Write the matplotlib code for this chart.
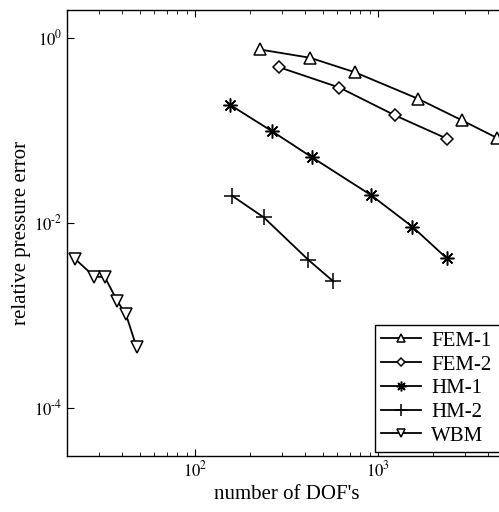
import math
import matplotlib
matplotlib.use('Agg')
import matplotlib.pyplot as plt
import matplotlib.ticker as mticker

plt.rcParams['font.family'] = ['Liberation Serif', 'DejaVu Serif']
plt.rcParams['mathtext.fontset'] = 'stix'

# values
fem1_dof = [226, 425, 748, 1656, 2877, 4467]
fem1_err = [0.748, 0.609, 0.424, 0.219, 0.128, 0.0826]

fem2_dof = [289, 615, 1238, 2371]
fem2_err = [0.480, 0.290, 0.145, 0.0814]

hm1_dof = [155, 264, 434, 916, 1540, 2371]
hm1_err = [0.189, 0.0975, 0.0513, 0.0199, 0.00906, 0.00413]

hm2_dof = [160, 238, 416, 570]
hm2_err = [0.0195, 0.0114, 0.00397, 0.00232]

wbm_dof = [22.1, 28.2, 32.2, 37.6, 42.0, 48.0]
wbm_err = [0.00407, 0.00262, 0.00258, 0.00143, 0.00102, 0.00045]

fig = plt.figure(figsize=(4.99, 5.12), dpi=100)
# right spine sits just past the cropped edge, like in the scan
ax = fig.add_axes([67/499, 56/512, 439/499, 446/512])

kw = dict(color='black', lw=1.3, mfc='white', mec='black', mew=1.1)
ax.plot(fem1_dof, fem1_err, marker='^', ms=8, label='FEM-1', **kw)
ax.plot(fem2_dof, fem2_err, marker='D', ms=6, label='FEM-2', **kw)
ax.plot(hm1_dof, hm1_err, marker=(8, 2, 0), ms=10, label='HM-1', **kw)
ax.plot(hm2_dof, hm2_err, marker='+', ms=12, label='HM-2', **kw)
ax.plot(wbm_dof, wbm_err, marker='v', ms=8, label='WBM', **kw)

ax.set_xscale('log')
ax.set_yscale('log')
ax.set_xlim(20, 5000)
ax.set_ylim(3e-5, 2)


def pow_label(v, pos):
    e = int(round(math.log10(v)))
    if e < 0:
        return r'$10^{\text{-}%d}$' % (-e)
    return r'$10^{%d}$' % e


ax.set_yticks([1e0, 1e-2, 1e-4])
ax.yaxis.set_minor_locator(mticker.NullLocator())
ax.set_xticks([1e2, 1e3])
ax.xaxis.set_major_formatter(mticker.FuncFormatter(pow_label))
ax.yaxis.set_major_formatter(mticker.FuncFormatter(pow_label))
ax.tick_params(which='both', direction='in', top=True, right=True, labelsize=12)
ax.tick_params(which='major', length=5)
ax.tick_params(which='minor', length=3)
for s in ax.spines.values():
    s.set_linewidth(1.0)

ax.set_xlabel('number of DOF\'s', fontsize=15, labelpad=3)
ax.set_ylabel('relative pressure error', fontsize=15, labelpad=2)

leg = ax.legend(loc='lower left', bbox_to_anchor=(375/499, 60/512, 140/499, 0.01),
                bbox_transform=fig.transFigure, mode='expand', fontsize=15,
                fancybox=False, framealpha=1, edgecolor='black', borderpad=0.3,
                labelspacing=0.2, handlelength=1.9, handletextpad=0.5,
                borderaxespad=0)
leg.get_frame().set_linewidth(1.0)
for h, ms in zip(leg.legend_handles, [6, 4.5, 7, 9, 6]):
    h.set_markersize(ms)

fig.savefig('out.png', dpi=100)
